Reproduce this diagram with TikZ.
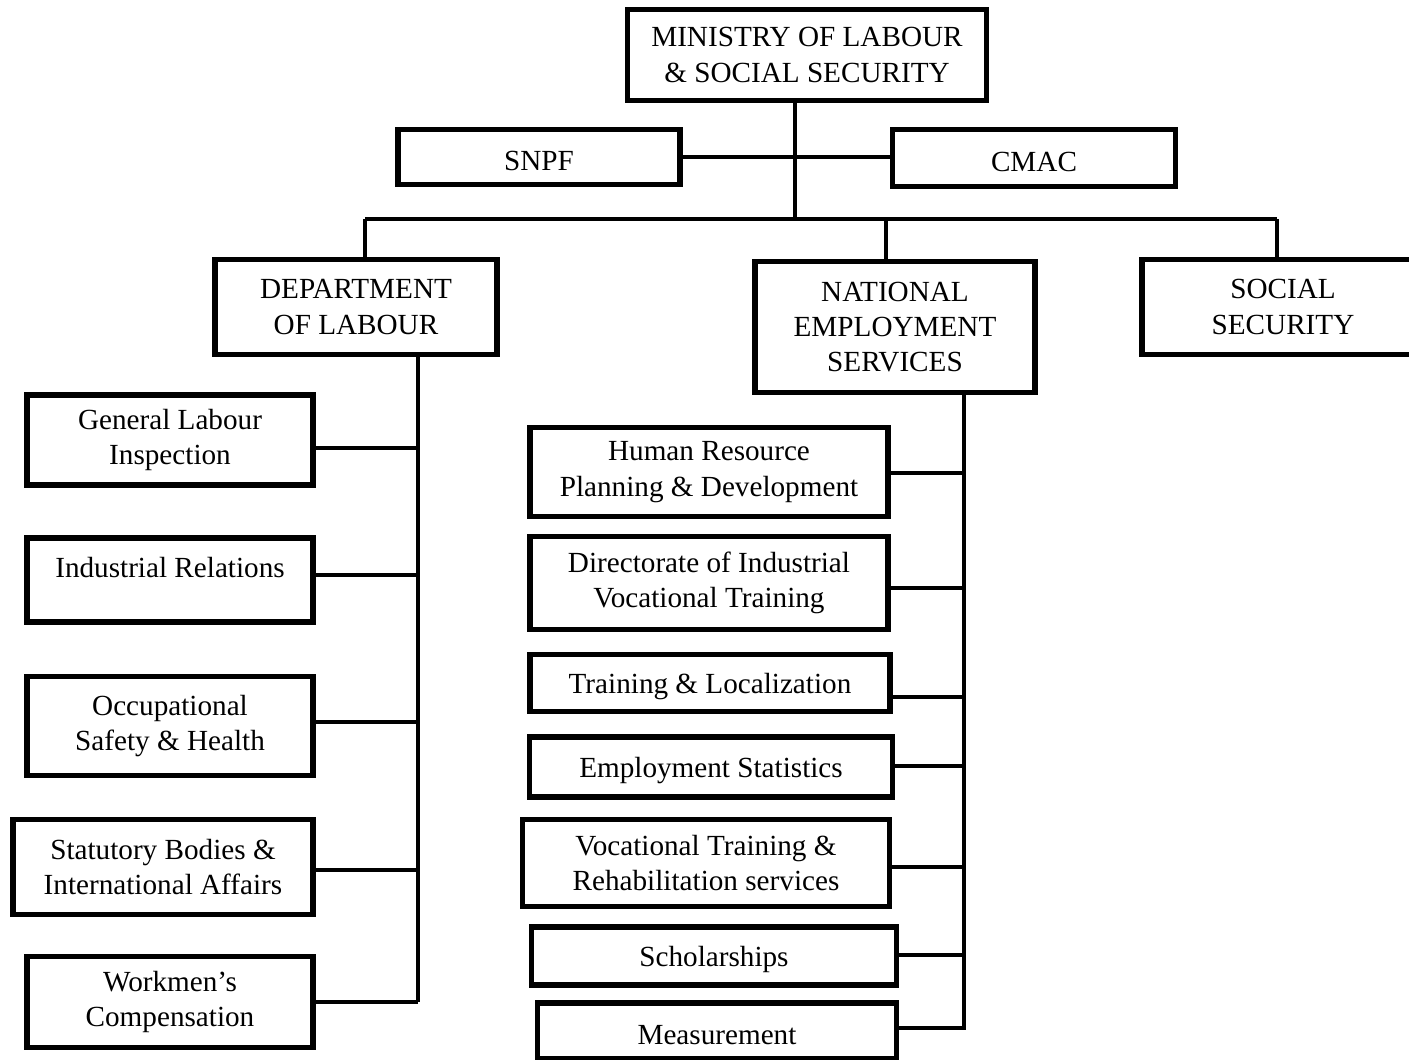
\documentclass[tikz,border=0pt]{standalone}
\usepackage{fontspec}
\setmainfont{Liberation Serif}
\tikzset{
    unit/.style={draw, line width=1.6pt, align=center, inner sep=0pt,
        font=\fontsize{8.3}{10}\selectfont,
        execute at begin node={\rule{0pt}{8pt}}},
    link/.style={line width=1.1pt}
}
\begin{document}
\begin{tikzpicture}[x=0.01cm, y=-0.01cm]
    \useasboundingbox (0, 0) rectangle (1409, 1059);
    % top level
    \node [unit, minimum width=3.59cm, minimum height=0.91cm] (ministry) at (807, 55)
        {MINISTRY OF LABOUR\\ \& SOCIAL SECURITY};
    \node [unit, minimum width=2.82cm, minimum height=0.55cm] (snpf) at (539, 157) {SNPF};
    \node [unit, minimum width=2.83cm, minimum height=0.57cm] (cmac) at (1034, 158) {CMAC};
    \node [unit, minimum width=2.82cm, minimum height=0.95cm] (dol) at (356, 307)
        {DEPARTMENT\\ OF LABOUR};
    \node [unit, minimum width=2.80cm, minimum height=1.31cm] (nes) at (895, 327)
        {NATIONAL\\ EMPLOYMENT\\ SERVICES};
    \node [unit, minimum width=2.82cm, minimum height=0.95cm] (soc) at (1283, 307)
        {SOCIAL\\ SECURITY};
    % department of labour
    \node [unit, minimum width=2.86cm, minimum height=0.90cm] (gli) at (170, 440)
        {General Labour\\ Inspection};
    \node [unit, minimum width=2.86cm, minimum height=0.84cm] (ir) at (170, 580)
        {Industrial Relations\\[-5.7pt] \strut};
    \node [unit, minimum width=2.86cm, minimum height=0.99cm] (osh) at (170, 726)
        {Occupational\\ Safety \& Health};
    \node [unit, minimum width=3.00cm, minimum height=0.95cm] (sbia) at (163, 867)
        {Statutory Bodies \&\\ International Affairs};
    \node [unit, minimum width=2.86cm, minimum height=0.91cm] (wc) at (170, 1002)
        {Workmen's\\ Compensation};
    % national employment services
    \node [unit, minimum width=3.58cm, minimum height=0.89cm] (hrpd) at (709, 472)
        {Human Resource\\ Planning \& Development};
    \node [unit, minimum width=3.58cm, minimum height=0.93cm] (divt) at (709, 583)
        {Directorate of Industrial\\ Vocational Training};
    \node [unit, minimum width=3.60cm, minimum height=0.57cm] (tl) at (710, 683)
        {Training \& Localization};
    \node [unit, minimum width=3.63cm, minimum height=0.60cm] (es) at (711, 767)
        {Employment Statistics};
    \node [unit, minimum width=3.67cm, minimum height=0.87cm] (vtrs) at (706, 863)
        {Vocational Training \&\\ Rehabilitation services};
    \node [unit, minimum width=3.65cm, minimum height=0.58cm] (sch) at (714, 956)
        {Scholarships};
    \node [unit, minimum width=3.59cm, minimum height=0.56cm] (meas) at (717, 1031)
        {Measurement};

    \coordinate (trunk) at (795, 219);
    \coordinate (busl) at (365, 219);
    \coordinate (busm) at (886, 219);
    \coordinate (busr) at (1277, 219);
    \coordinate (side) at (795, 157);
    \draw [link] (ministry.south -| trunk) -- (trunk);
    \draw [link] (snpf.east |- side) -- (cmac.west |- side);
    \draw [link] (busl) -- (busr);
    \draw [link] (busl) -- (dol.north -| busl);
    \draw [link] (busm) -- (nes.north -| busm);
    \draw [link] (busr) -- (soc.north -| busr);

    \coordinate (dl) at (418, 1002);
    \draw [link] (dol.south -| dl) -- (dl);
    \foreach \n/\y in {gli/448, ir/575, osh/722, sbia/870, wc/1002}
        \draw [link] (\n.east |- 0, \y) -- (418, \y);

    \coordinate (nl) at (964, 1030);
    \draw [link] (nes.south -| nl) -- (nl);
    \foreach \n/\y in {hrpd/473, divt/588, tl/697, es/766, vtrs/867, sch/955, meas/1028}
        \draw [link] (\n.east |- 0, \y) -- (964, \y);
\end{tikzpicture}
\end{document}
